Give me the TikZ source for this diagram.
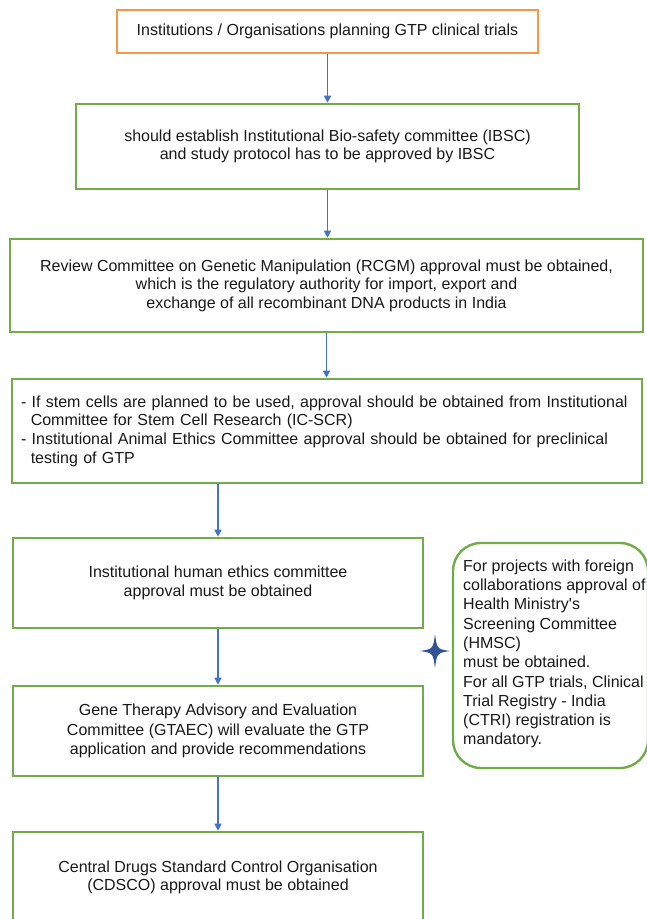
\documentclass[tikz,border=0pt]{standalone}
\usepackage{fontspec}
\setmainfont{Liberation Sans}
\usetikzlibrary{arrows.meta}
\definecolor{grn}{RGB}{112,173,71}
\definecolor{org}{RGB}{247,150,70}
\definecolor{arrblue}{RGB}{68,114,196}
\definecolor{starblue}{RGB}{47,85,151}
\tikzset{
  txt/.style={font=\fontsize{16}{18.6}\selectfont, text=black!90},
  gbox/.style={txt, draw=grn, line width=2.6pt, align=center, inner sep=0pt},
  obox/.style={txt, draw=org, line width=2.4pt, align=center, inner sep=0pt},
  rbox/.style={draw=grn, line width=2.4pt, rounded corners=28pt, inner sep=0pt},
  arr/.style={draw=arrblue, line width=1.6pt, -{Triangle[width=7pt,length=7pt]}}
}
\begin{document}
\begin{tikzpicture}[x=1pt,y=-1pt]
\useasboundingbox (0,0) rectangle (647,919);
\node[obox, minimum width=421pt, minimum height=43pt] (b1) at (327.5,31.5)
  {Institutions / Organisations planning GTP clinical trials};
\node[gbox, minimum width=503pt, minimum height=85pt] (b2) at (327.5,146.5)
  {should establish Institutional Bio-safety committee (IBSC)\\and study protocol has to be approved by IBSC};
\node[gbox, minimum width=633pt, minimum height=93pt] (b3) at (326.5,285.5)
  {Review Committee on Genetic Manipulation (RCGM) approval must be obtained,\\which is the regulatory authority for import, export and\\exchange of all recombinant DNA products in India};
\node[gbox, align=left, text width=612pt, inner xsep=9pt, minimum width=630pt, minimum height=104pt] (b4) at (327,431)
  {- If stem cells are planned to be used, approval should be obtained from Institutional\\
   \hspace*{9.8pt}Committee for Stem Cell Research (IC-SCR)\\
   - Institutional Animal Ethics Committee approval should be obtained for preclinical\\
   \hspace*{9.8pt}testing of GTP};
\node[gbox, minimum width=410pt, minimum height=90pt] (b5) at (218,583)
  {Institutional human ethics committee\\approval must be obtained};
\node[gbox, minimum width=410pt, minimum height=90pt, font=\fontsize{16}{19.4}\selectfont] (b6) at (218,731)
  {Gene Therapy Advisory and Evaluation\\Committee (GTAEC) will evaluate the GTP\\application and provide recommendations};
\node[gbox, minimum width=410pt, minimum height=91pt] (b7) at (218,877.5)
  {Central Drugs Standard Control Organisation\\(CDSCO) approval must be obtained};
\node[rbox, minimum width=195pt, minimum height=225pt] (rb) at (550.5,655.5) {};
\node[txt, anchor=west, align=left, inner sep=0pt, font=\fontsize{16}{19.3}\selectfont] (rbt) at (463,654)
  {For projects with foreign\\collaborations approval of\\Health Ministry\textquotesingle s\\Screening Committee\\(HMSC)\\must be obtained.\\For all GTP trials, Clinical\\Trial Registry - India\\(CTRI) registration is\\mandatory.};
\fill[starblue] (435,634) .. controls (437,649) .. (450,651) .. controls (437,653) .. (435,668)
  .. controls (433,653) .. (420,651) .. controls (433,649) .. (435,634) -- cycle;
\draw[arr] (b1.south) -- (b1.south |- b2.north);
\draw[arr] (b2.south) -- (b2.south |- b3.north);
\draw[arr] (b3.south) -- (b3.south |- b4.north);
\draw[arr] (b5.north |- b4.south) -- (b5.north);
\draw[arr] (b5.south) -- (b6.north);
\draw[arr] (b6.south) -- (b7.north);
\end{tikzpicture}
\end{document}
